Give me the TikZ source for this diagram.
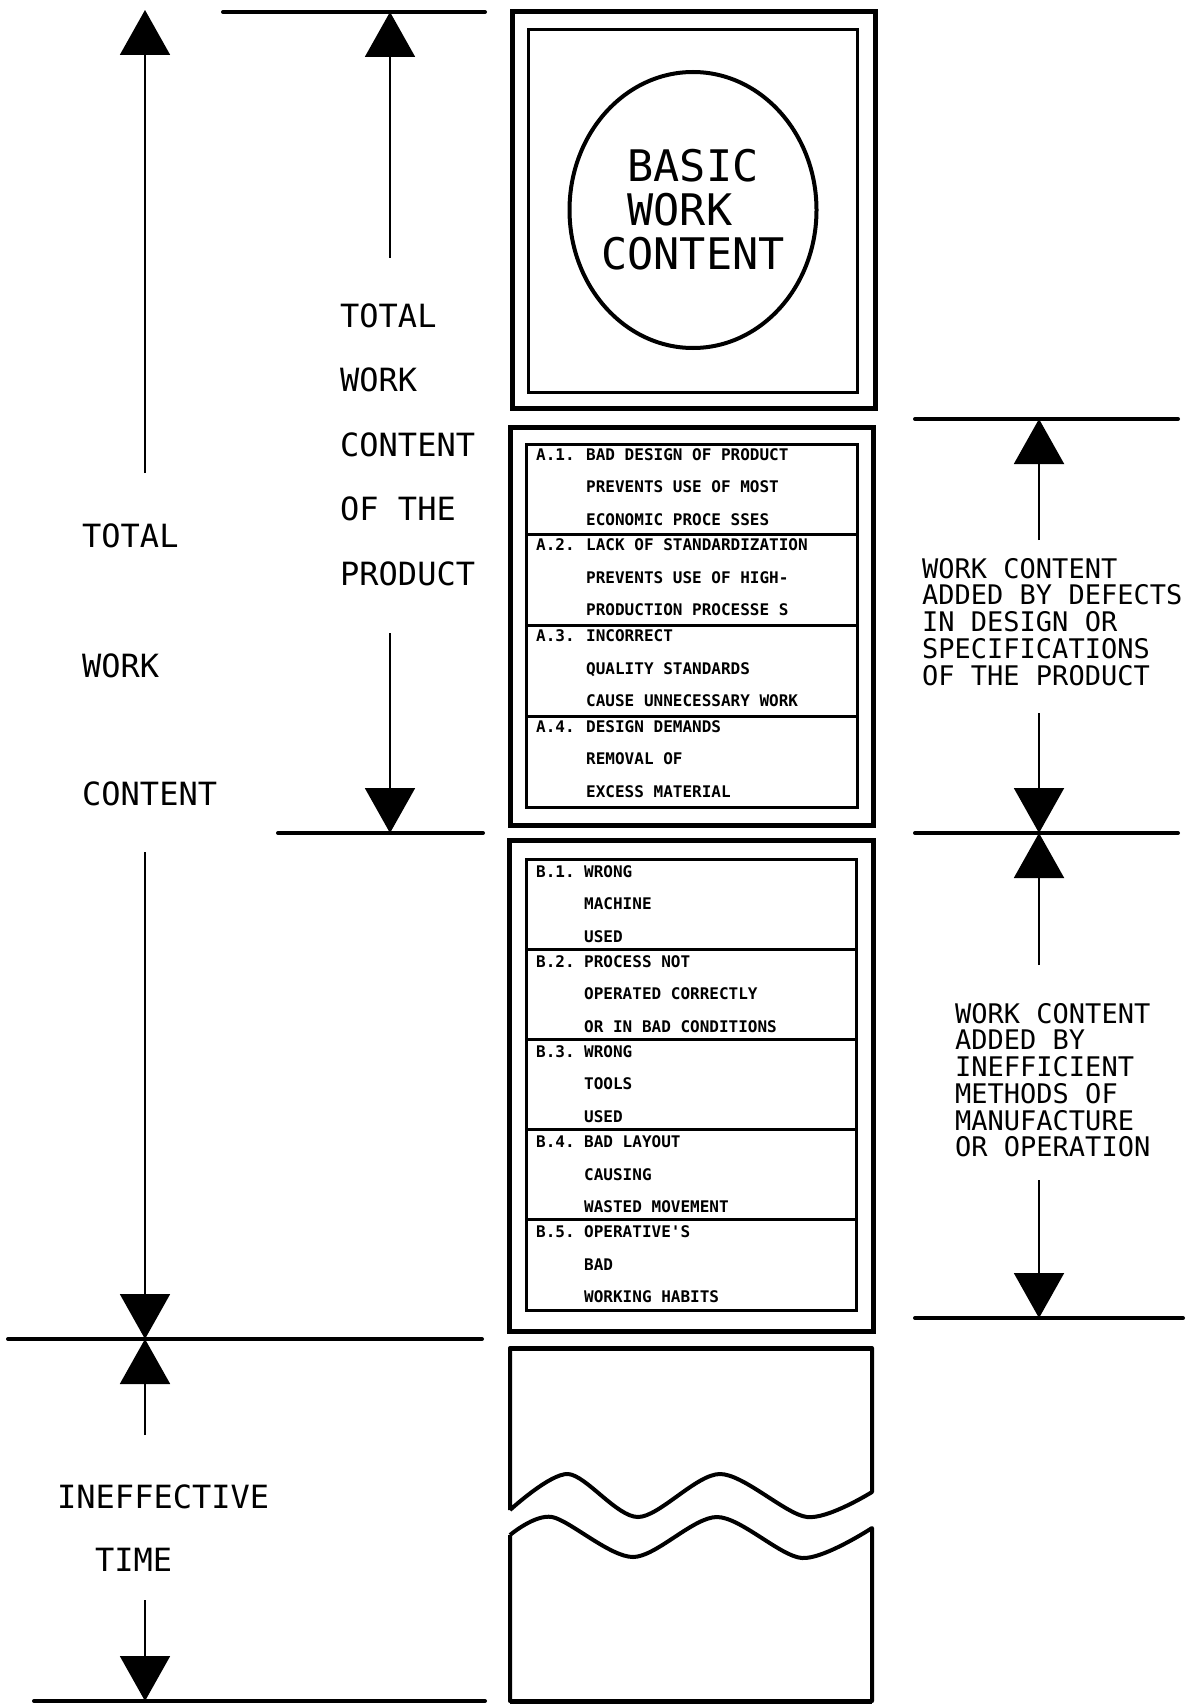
\documentclass[tikz,border=0pt]{standalone}
\usepackage{fontspec}
\setmonofont{DejaVu Sans Mono}
\usepackage{tikz}
\usetikzlibrary{arrows.meta}
\usetikzlibrary{shapes.geometric}

\tikzset{
    dimline/.style={line width=2pt, -{Triangle[length=45pt,width=50pt]}},
    extline/.style={line width=4pt, line cap=round},
    outerbox/.style={line width=5pt},
    innerbox/.style={line width=3pt},
    breakline/.style={line width=4pt, line join=round},
    biglabel/.style={anchor=base west, inner sep=0pt, font=\ttfamily\fontsize{32}{32}\selectfont},
    sidelabel/.style={anchor=north west, inner sep=0pt, align=left, font=\ttfamily\fontsize{27}{26.7}\selectfont},
    rowtext/.style={anchor=base west, inner sep=0pt, font=\ttfamily\bfseries\fontsize{16}{16}\selectfont},
}

\begin{document}
\begin{tikzpicture}[x=1pt, y=-1pt]
    \newcommand\RowA{90.75}
    \newcommand\RowB{90.2}
    \path[use as bounding box, fill=white] (0,0) rectangle (1192,1704);

    % Basic work content
    \draw[outerbox] (512,12) rectangle (875,408);
    \draw[innerbox] (528,30) rectangle (857,392);
    \node[ellipse, draw, line width=4pt, minimum width=247pt, minimum height=276pt, inner sep=0pt] (basic) at (693,210) {};
    \node[align=left, inner sep=0pt, font=\ttfamily\fontsize{43.5}{44}\selectfont] (basicText) at (basic.center)
          {\hphantom{X}BASIC\\\hphantom{X}WORK\\CONTENT};

    % Defects in design
    \draw[outerbox] (510,427) rectangle (873,825);
    \foreach \lab/\la/\lb/\lc [count=\i from 0] in {
        A.1./BAD DESIGN OF PRODUCT/PREVENTS USE OF MOST/ECONOMIC PROCE SSES,
        A.2./LACK OF STANDARDIZATION/PREVENTS USE OF HIGH-/PRODUCTION PROCESSE S,
        A.3./INCORRECT/QUALITY STANDARDS/CAUSE UNNECESSARY WORK,
        A.4./DESIGN DEMANDS/REMOVAL OF/EXCESS MATERIAL} {
        \draw[innerbox] (526,444+\i*\RowA) rectangle (857,444+\i*\RowA+\RowA);
        \node[rowtext] (alab\i) at (536,460+\i*\RowA) {\lab};
        \node[rowtext] (aone\i) at (586,460+\i*\RowA) {\la};
        \node[rowtext] (atwo\i) at (586,492.5+\i*\RowA) {\lb};
        \node[rowtext] (athree\i) at (586,525+\i*\RowA) {\lc};
    }

    % Inefficient methods
    \draw[outerbox] (509,840) rectangle (873,1331);
    \foreach \lab/\la/\lb/\lc [count=\i from 0] in {
        B.1./WRONG/MACHINE/USED,
        B.2./PROCESS NOT/OPERATED CORRECTLY/OR IN BAD CONDITIONS,
        B.3./WRONG/TOOLS/USED,
        B.4./BAD LAYOUT/CAUSING/WASTED MOVEMENT,
        B.5./OPERATIVE'S/BAD/WORKING HABITS} {
        \draw[innerbox] (526,859+\i*\RowB) rectangle (856,859+\i*\RowB+\RowB);
        \node[rowtext] (blab\i) at (536,877+\i*\RowB) {\lab};
        \node[rowtext] (bone\i) at (584,877+\i*\RowB) {\la};
        \node[rowtext] (btwo\i) at (584,909.5+\i*\RowB) {\lb};
        \node[rowtext] (bthree\i) at (584,942+\i*\RowB) {\lc};
    }

    % Ineffective time (broken box)
    \draw[breakline] (510,1510) -- (510,1348) -- (872,1348) -- (872,1492)
        -- plot[smooth] coordinates {(872,1492) (807,1517) (720,1474) (638,1517) (568,1474) (510,1510)};
    \draw[breakline] (510,1535) -- (510,1701) -- (872,1701) -- (872,1528)
        -- plot[smooth] coordinates {(872,1528) (802,1558) (717,1517) (633,1557) (552,1517) (510,1535)};
    \draw[outerbox] (510,1348) -- (872,1348);
    \draw[outerbox] (510,1701) -- (872,1701);

    % Extension lines
    \draw[extline] (223,12) -- (485,12);
    \draw[extline] (278,833) -- (483,833);
    \draw[extline] (8,1339) -- (482,1339);
    \draw[extline] (34,1701) -- (485,1701);
    \draw[extline] (915,419) -- (1178,419);
    \draw[extline] (915,833) -- (1178,833);
    \draw[extline] (915,1318) -- (1183,1318);

    % Total work content
    \node[biglabel] (twcTotal) at (82,547) {TOTAL};
    \node[biglabel] (twcWork) at (82,677) {WORK};
    \node[biglabel] (twcContent) at (82,805) {CONTENT};
    \coordinate (twcTop) at (145,10);
    \coordinate (twcUp) at (145,473);
    \coordinate (twcDown) at (145,852);
    \coordinate (twcBot) at (145,1339);
    \draw[dimline] (twcUp) -- (twcTop);
    \draw[dimline] (twcDown) -- (twcBot);

    % Ineffective time
    \node[biglabel] (ineff) at (57,1508) {INEFFECTIVE};
    \node[biglabel] (ineffTime) at (95,1571) {TIME};
    \coordinate (itTop) at (145,1339);
    \coordinate (itUp) at (145,1435);
    \coordinate (itDown) at (145,1600);
    \coordinate (itBot) at (145,1701);
    \draw[dimline] (itUp) -- (itTop);
    \draw[dimline] (itDown) -- (itBot);

    % Total work content of the product
    \foreach \t [count=\i from 0] in {TOTAL,WORK,CONTENT,OF THE,PRODUCT} {
        \node[biglabel] (prod\i) at (340,327+\i*64.5) {\t};
    }
    \coordinate (prodTop) at (390,12);
    \coordinate (prodUp) at (390,258);
    \coordinate (prodDown) at (390,633);
    \coordinate (prodBot) at (390,833);
    \draw[dimline] (prodUp) -- (prodTop);
    \draw[dimline] (prodDown) -- (prodBot);

    % Added by defects
    \node[sidelabel] (defects) at (922,558)
        {WORK CONTENT\\ADDED BY DEFECTS\\IN DESIGN OR\\SPECIFICATIONS\\OF THE PRODUCT};
    \coordinate (defTop) at (1039,419);
    \coordinate (defUp) at (1039,540);
    \coordinate (defDown) at (1039,713);
    \coordinate (defBot) at (1039,833);
    \draw[dimline] (defUp) -- (defTop);
    \draw[dimline] (defDown) -- (defBot);

    % Added by methods
    \node[sidelabel] (methods) at (955,1003)
        {WORK CONTENT\\ADDED BY\\INEFFICIENT\\METHODS OF\\MANUFACTURE\\OR OPERATION};
    \coordinate (metTop) at (1039,833);
    \coordinate (metUp) at (1039,965);
    \coordinate (metDown) at (1039,1180);
    \coordinate (metBot) at (1039,1318);
    \draw[dimline] (metUp) -- (metTop);
    \draw[dimline] (metDown) -- (metBot);

\end{tikzpicture}
\end{document}
